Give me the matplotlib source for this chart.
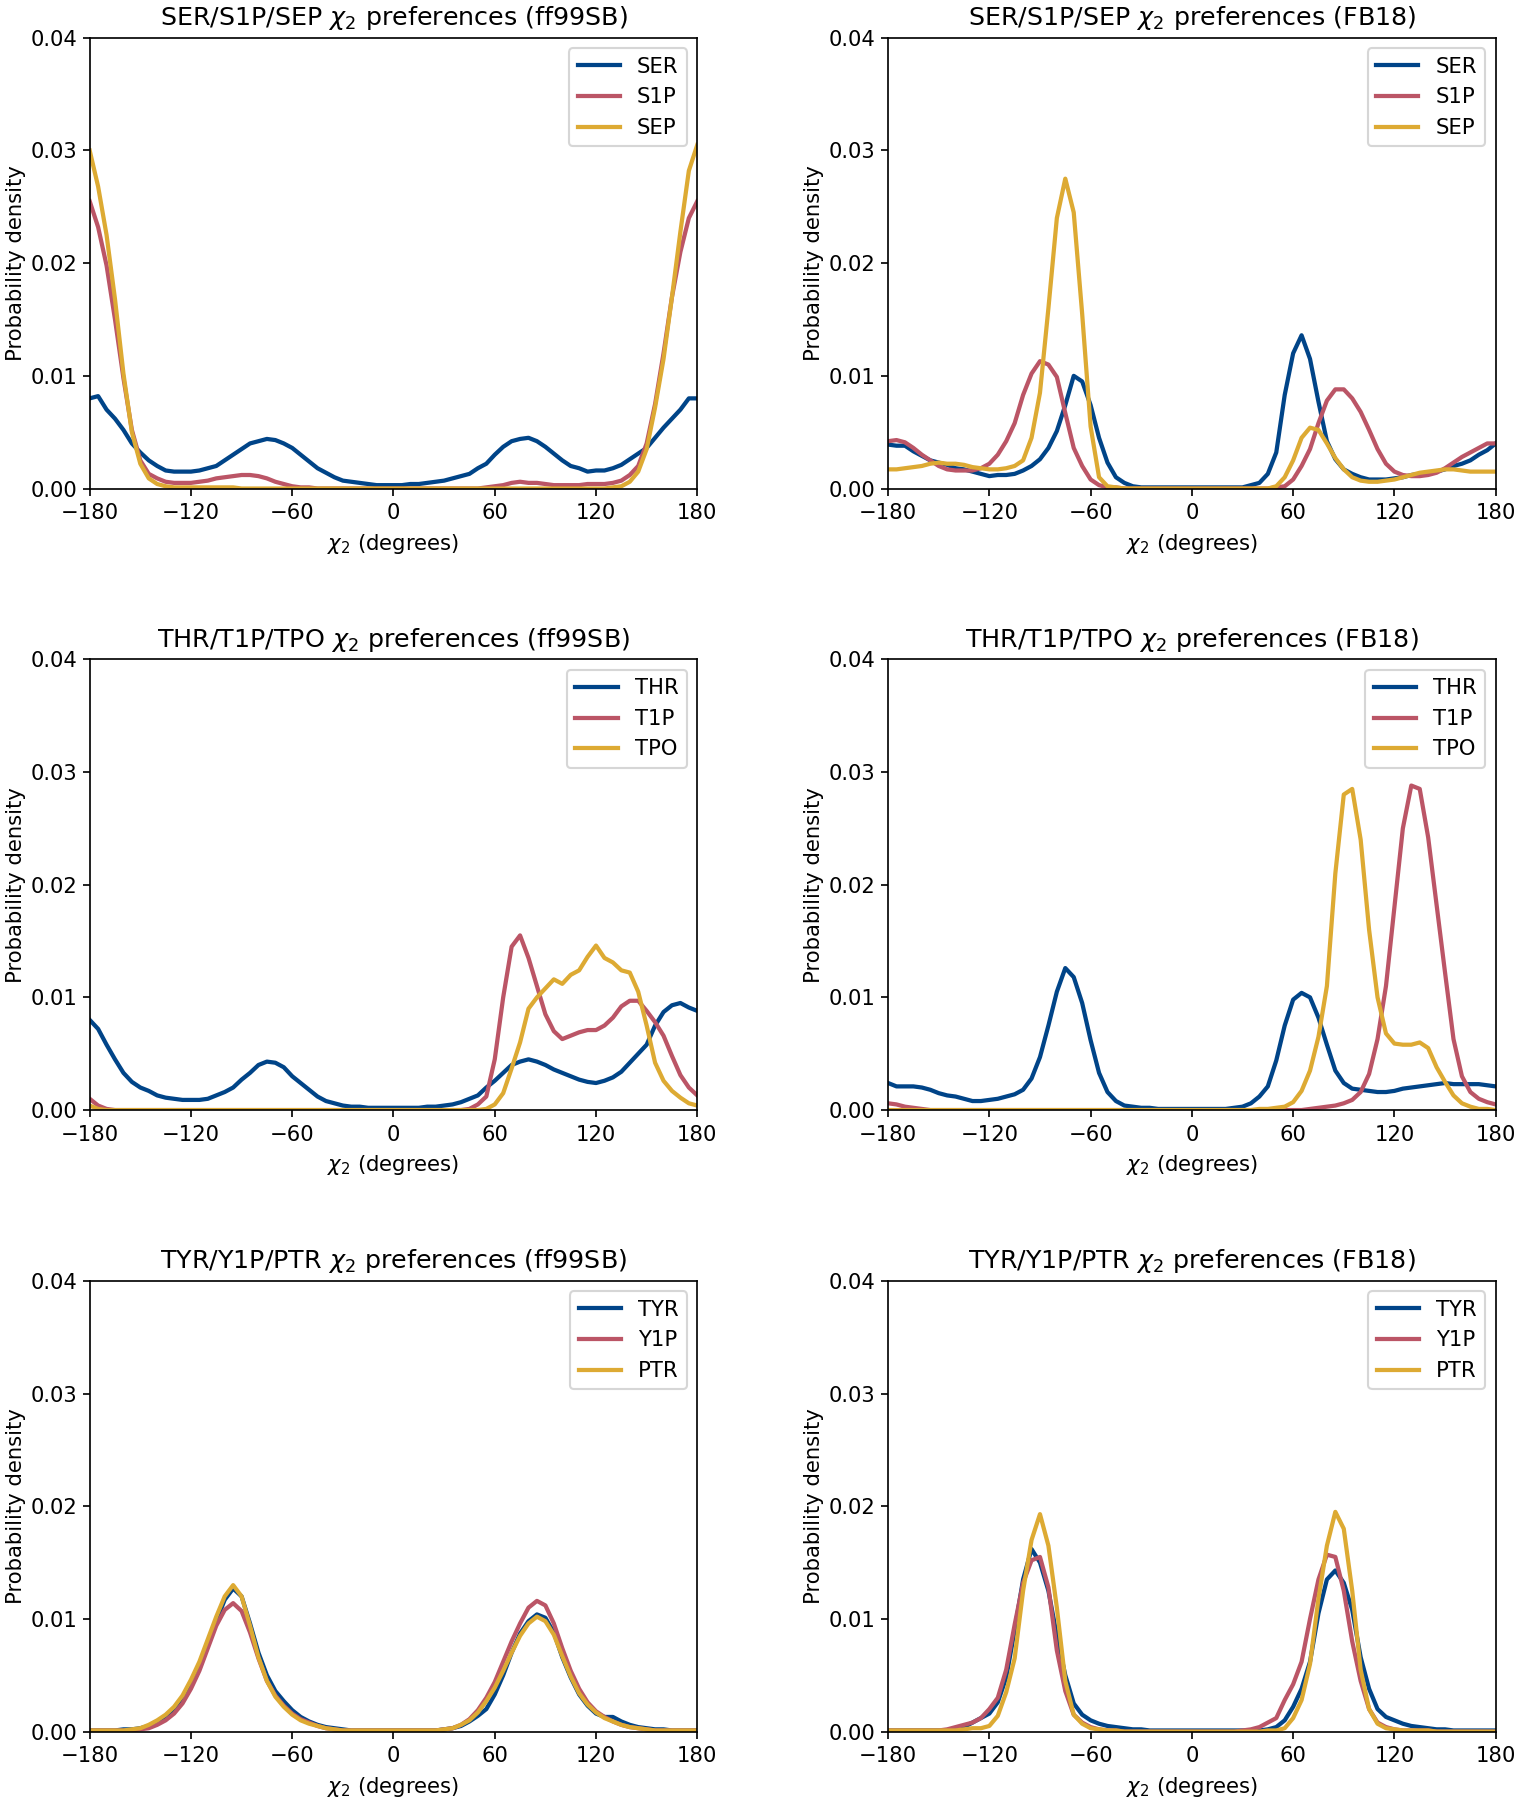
import numpy as np
import matplotlib
matplotlib.use("Agg")
import matplotlib.pyplot as plt

# chi2 grid, degrees
chi2 = np.arange(-180, 181, 5)

# densities in units of 1e-4, one row = 30 degrees
ser_ff = [80, 82, 70, 62, 52, 40, 32, 25, 20, 16, 15, 15,
          15, 16, 18, 20, 25, 30, 35, 40, 42, 44, 43, 40,
          36, 30, 24, 18, 14, 10, 7, 6, 5, 4, 3, 3,
          3, 3, 4, 4, 5, 6, 7, 9, 11, 13, 18, 22,
          30, 37, 42, 44, 45, 42, 37, 31, 25, 20, 18, 15,
          16, 16, 18, 21, 26, 31, 36, 45, 54, 62, 70, 80,
          80]
s1p_ff = [255, 232, 198, 150, 98, 52, 25, 13, 9, 6, 5, 5,
          5, 6, 7, 9, 10, 11, 12, 12, 11, 9, 6, 4,
          2, 1, 1, 0, 0, 0, 0, 0, 0, 0, 0, 0,
          0, 0, 0, 0, 0, 0, 0, 0, 0, 0, 0, 1,
          2, 3, 5, 6, 5, 5, 4, 3, 3, 3, 3, 4,
          4, 4, 5, 7, 12, 20, 40, 75, 120, 170, 210, 240,
          255]
sep_ff = [300, 268, 225, 168, 102, 50, 22, 9, 4, 2, 1, 1,
          1, 1, 1, 1, 1, 1, 0, 0, 0, 0, 0, 0,
          0, 0, 0, 0, 0, 0, 0, 0, 0, 0, 0, 0,
          0, 0, 0, 0, 0, 0, 0, 0, 0, 0, 0, 0,
          0, 0, 0, 0, 0, 0, 0, 0, 0, 0, 0, 0,
          0, 0, 1, 2, 6, 15, 35, 72, 115, 170, 228, 282,
          305]

ser_fb = [39, 38, 38, 33, 29, 25, 23, 21, 18, 17, 15, 13,
          11, 12, 12, 13, 16, 20, 26, 36, 51, 74, 100, 95,
          74, 45, 23, 10, 5, 2, 1, 1, 1, 1, 1, 1,
          1, 1, 1, 1, 1, 1, 1, 3, 5, 13, 32, 83,
          120, 136, 115, 77, 42, 26, 17, 13, 10, 8, 8, 8,
          9, 10, 12, 13, 14, 15, 17, 20, 22, 25, 30, 34,
          40]
s1p_fb = [42, 43, 41, 36, 30, 25, 20, 17, 16, 16, 16, 18,
          22, 30, 42, 58, 83, 102, 113, 110, 99, 67, 36, 20,
          8, 3, 1, 1, 0, 0, 0, 0, 0, 0, 0, 0,
          0, 0, 0, 0, 0, 0, 0, 0, 0, 0, 1, 2,
          8, 20, 35, 58, 78, 88, 88, 80, 68, 52, 35, 22,
          15, 12, 11, 11, 12, 14, 18, 23, 28, 32, 36, 40,
          40]
sep_fb = [17, 17, 18, 19, 20, 22, 23, 22, 22, 21, 19, 18,
          17, 17, 18, 20, 25, 45, 85, 160, 240, 275, 245, 155,
          55, 10, 2, 1, 0, 0, 0, 0, 0, 0, 0, 0,
          0, 0, 0, 0, 0, 0, 0, 0, 0, 0, 2, 10,
          25, 45, 54, 52, 40, 27, 17, 10, 7, 6, 6, 7,
          8, 10, 12, 14, 15, 16, 17, 17, 16, 15, 15, 15,
          15]

thr_ff = [80, 72, 58, 45, 33, 25, 20, 17, 13, 11, 10, 9,
          9, 9, 10, 13, 16, 20, 27, 33, 40, 43, 42, 38,
          30, 24, 18, 12, 8, 6, 4, 3, 3, 2, 2, 2,
          2, 2, 2, 2, 3, 3, 4, 5, 7, 10, 13, 20,
          26, 33, 40, 43, 45, 43, 40, 36, 33, 30, 27, 25,
          24, 26, 29, 34, 42, 50, 58, 75, 87, 93, 95, 91,
          88]
t1p_ff = [10, 4, 1, 0, 0, 0, 0, 0, 0, 0, 0, 0,
          0, 0, 0, 0, 0, 0, 0, 0, 0, 0, 0, 0,
          0, 0, 0, 0, 0, 0, 0, 0, 0, 0, 0, 0,
          0, 0, 0, 0, 0, 0, 0, 0, 0, 1, 5, 12,
          45, 100, 145, 155, 135, 110, 85, 70, 63, 66, 69, 71,
          71, 75, 82, 92, 97, 97, 88, 78, 66, 48, 31, 20,
          13]
tpo_ff = [4, 1, 0, 0, 0, 0, 0, 0, 0, 0, 0, 0,
          0, 0, 0, 0, 0, 0, 0, 0, 0, 0, 0, 0,
          0, 0, 0, 0, 0, 0, 0, 0, 0, 0, 0, 0,
          0, 0, 0, 0, 0, 0, 0, 0, 0, 0, 0, 1,
          5, 15, 37, 60, 90, 100, 108, 116, 112, 120, 124, 136,
          146, 135, 131, 124, 122, 105, 75, 42, 26, 17, 11, 6,
          4]

thr_fb = [24, 21, 21, 21, 20, 18, 15, 13, 12, 10, 8, 8,
          9, 10, 12, 14, 18, 28, 47, 75, 105, 126, 118, 95,
          62, 33, 16, 8, 4, 3, 2, 2, 1, 1, 1, 1,
          1, 1, 1, 1, 1, 2, 3, 6, 12, 21, 44, 75,
          98, 104, 100, 82, 58, 35, 24, 19, 18, 17, 16, 16,
          17, 19, 20, 21, 22, 23, 24, 23, 23, 23, 23, 22,
          21]
t1p_fb = [6, 5, 3, 2, 1, 0, 0, 0, 0, 0, 0, 0,
          0, 0, 0, 0, 0, 0, 0, 0, 0, 0, 0, 0,
          0, 0, 0, 0, 0, 0, 0, 0, 0, 0, 0, 0,
          0, 0, 0, 0, 0, 0, 0, 0, 0, 0, 0, 0,
          0, 0, 1, 2, 3, 4, 6, 9, 16, 32, 63, 110,
          180, 250, 288, 285, 242, 182, 122, 63, 30, 16, 10, 7,
          5]
tpo_fb = [0, 0, 0, 0, 0, 0, 0, 0, 0, 0, 0, 0,
          0, 0, 0, 0, 0, 0, 0, 0, 0, 0, 0, 0,
          0, 0, 0, 0, 0, 0, 0, 0, 0, 0, 0, 0,
          0, 0, 0, 0, 0, 0, 0, 0, 1, 1, 2, 3,
          7, 17, 35, 65, 110, 210, 280, 285, 240, 160, 100, 68,
          59, 58, 58, 60, 55, 38, 25, 13, 6, 3, 1, 1,
          0]

tyr_ff = [1, 1, 1, 1, 2, 2, 3, 5, 8, 12, 18, 27,
          40, 56, 76, 98, 117, 127, 120, 96, 70, 50, 36, 27,
          19, 13, 9, 6, 4, 3, 2, 1, 1, 1, 1, 1,
          1, 1, 1, 1, 1, 1, 2, 3, 5, 9, 14, 20,
          33, 50, 70, 87, 98, 104, 101, 88, 66, 48, 33, 23,
          16, 13, 13, 9, 6, 4, 3, 2, 2, 1, 1, 1,
          1]
y1p_ff = [1, 1, 1, 1, 1, 1, 2, 3, 6, 10, 16, 25,
          38, 54, 74, 94, 108, 114, 107, 88, 65, 45, 32, 23,
          16, 11, 8, 5, 3, 2, 1, 1, 1, 1, 1, 1,
          1, 1, 1, 1, 1, 1, 2, 3, 6, 11, 19, 30,
          44, 62, 80, 96, 110, 116, 112, 96, 74, 54, 38, 26,
          18, 13, 9, 6, 4, 3, 2, 1, 1, 1, 1, 1,
          1]
ptr_ff = [1, 1, 1, 1, 1, 2, 3, 6, 10, 15, 22, 32,
          46, 62, 82, 102, 120, 130, 120, 94, 66, 45, 31, 22,
          15, 10, 7, 5, 3, 2, 1, 1, 1, 1, 1, 1,
          1, 1, 1, 1, 1, 1, 2, 3, 6, 10, 17, 27,
          39, 54, 70, 85, 96, 102, 98, 86, 67, 49, 34, 24,
          17, 12, 9, 6, 4, 3, 2, 1, 1, 1, 1, 1,
          1]

tyr_fb = [1, 1, 1, 1, 1, 1, 1, 1, 2, 4, 8, 12,
          16, 26, 48, 90, 135, 162, 150, 125, 85, 50, 25, 15,
          10, 7, 5, 4, 3, 2, 2, 1, 1, 1, 1, 1,
          1, 1, 1, 1, 1, 1, 1, 1, 1, 2, 4, 10,
          22, 38, 62, 105, 135, 143, 132, 108, 66, 38, 20, 13,
          10, 7, 5, 4, 3, 2, 2, 1, 1, 1, 1, 1,
          1]
y1p_fb = [1, 1, 1, 1, 1, 1, 1, 2, 4, 6, 8, 12,
          20, 30, 55, 95, 132, 152, 155, 128, 72, 36, 15, 8,
          4, 2, 1, 1, 0, 0, 0, 0, 0, 0, 0, 0,
          0, 0, 0, 0, 0, 0, 1, 2, 4, 8, 12, 28,
          42, 62, 100, 135, 157, 155, 125, 80, 45, 20, 8, 4,
          2, 1, 1, 1, 1, 0, 0, 0, 0, 0, 0, 0,
          0]
ptr_fb = [1, 1, 1, 1, 1, 1, 1, 1, 1, 2, 3, 3,
          5, 14, 35, 65, 125, 170, 193, 165, 110, 45, 15, 7,
          3, 2, 1, 1, 0, 0, 0, 0, 0, 0, 0, 0,
          0, 0, 0, 0, 0, 0, 0, 0, 0, 1, 1, 3,
          12, 28, 60, 118, 165, 195, 180, 125, 55, 20, 7, 3,
          2, 1, 1, 1, 1, 0, 0, 0, 0, 0, 0, 0,
          0]

colors = ["#004488", "#BB5566", "#DDAA33"]


def plot_panel(ax, names, series, title):
    for name, vals, c in zip(names, series, colors):
        ax.plot(chi2, np.array(vals) * 1e-4, color=c, lw=2, label=name)
    ax.set_xlim(-180, 180)
    ax.set_ylim(0, 0.04)
    ax.set_xticks(np.arange(-180, 181, 60))
    ax.set_yticks(np.arange(0, 0.041, 0.01))
    ax.yaxis.set_major_formatter(matplotlib.ticker.FormatStrFormatter("%.2f"))
    ax.tick_params(axis="y", pad=2.5)
    ax.set_xlabel(r"$\chi_2$ (degrees)")
    ax.set_ylabel("Probability density", labelpad=2)
    ax.set_title(title, fontsize=12)
    ax.legend(loc="upper right")


def main():
    fig, axes = plt.subplots(3, 2, figsize=(1520 / 152, 1800 / 152), dpi=152)
    fig.subplots_adjust(left=0.059, right=0.984, top=0.979, bottom=0.038,
                        wspace=0.314, hspace=0.379)

    plot_panel(axes[0, 0], ["SER", "S1P", "SEP"], [ser_ff, s1p_ff, sep_ff],
               r"SER/S1P/SEP $\chi_2$ preferences (ff99SB)")
    plot_panel(axes[0, 1], ["SER", "S1P", "SEP"], [ser_fb, s1p_fb, sep_fb],
               r"SER/S1P/SEP $\chi_2$ preferences (FB18)")
    plot_panel(axes[1, 0], ["THR", "T1P", "TPO"], [thr_ff, t1p_ff, tpo_ff],
               r"THR/T1P/TPO $\chi_2$ preferences (ff99SB)")
    plot_panel(axes[1, 1], ["THR", "T1P", "TPO"], [thr_fb, t1p_fb, tpo_fb],
               r"THR/T1P/TPO $\chi_2$ preferences (FB18)")
    plot_panel(axes[2, 0], ["TYR", "Y1P", "PTR"], [tyr_ff, y1p_ff, ptr_ff],
               r"TYR/Y1P/PTR $\chi_2$ preferences (ff99SB)")
    plot_panel(axes[2, 1], ["TYR", "Y1P", "PTR"], [tyr_fb, y1p_fb, ptr_fb],
               r"TYR/Y1P/PTR $\chi_2$ preferences (FB18)")

    fig.savefig("out.png", dpi=152)


if __name__ == "__main__":
    main()
